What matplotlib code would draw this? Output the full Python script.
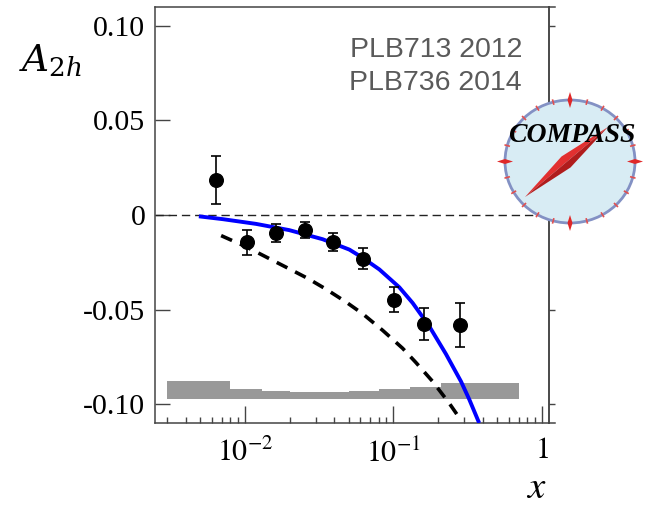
import numpy as np
import matplotlib
matplotlib.use("Agg")
import matplotlib.pyplot as plt
from matplotlib.patches import Ellipse, Polygon

# data
x_data = [0.0064, 0.0104, 0.0162, 0.0253, 0.0394, 0.0621, 0.1004, 0.160, 0.2825]
y_data = [0.0185, -0.0144, -0.0097, -0.0079, -0.0144, -0.0231, -0.0447, -0.0577, -0.0584]
y_err = [0.0125, 0.0065, 0.0048, 0.0042, 0.0047, 0.0054, 0.0067, 0.0083, 0.0116]

blue_x = [0.0049, 0.0071, 0.0119, 0.0199, 0.0334, 0.0506, 0.0621, 0.0806,
          0.1097, 0.135, 0.1746, 0.2263, 0.2858, 0.325, 0.379]
blue_y = [-0.0007, -0.0022, -0.0047, -0.0080, -0.0128, -0.0183, -0.0226, -0.0288,
          -0.0382, -0.0465, -0.0588, -0.0735, -0.0880, -0.0975, -0.1100]

dash_x = [0.00692, 0.0102, 0.0139, 0.01995, 0.0265, 0.0352, 0.048, 0.0621,
          0.0848, 0.1156, 0.142, 0.184, 0.238, 0.2858]
dash_y = [-0.0109, -0.0168, -0.0222, -0.0285, -0.0335, -0.0392, -0.0460, -0.0522,
          -0.0610, -0.0705, -0.0780, -0.0880, -0.0995, -0.1085]

# systematic band
band_edges = [0.003, 0.008, 0.013, 0.02, 0.05, 0.08, 0.13, 0.21, 0.7]
band_top = [-0.0877, -0.0921, -0.0930, -0.0935, -0.0930, -0.0921, -0.0909, -0.0886]
band_bottom = -0.0972

y_ticks = [-0.10, -0.05, 0, 0.05, 0.10]
y_ticklabels = ['-0.10', '-0.05', '0', '0.05', '0.10']
x_ticks = [0.01, 0.1, 1]
x_ticklabels = ['$10^{-2}$', '$10^{-1}$', '$1$']

plt.rcParams['font.family'] = ['Liberation Serif', 'DejaVu Serif']
plt.rcParams['mathtext.fontset'] = 'stix'

W, H = 646, 508
fig = plt.figure(figsize=(W / 100, H / 100), dpi=100)
ax = fig.add_axes([155 / W, 1 - 423 / H, (549 - 155) / W, (423 - 7) / H])

ax.fill_between(band_edges, band_bottom, band_top + [band_top[-1]], step='post',
                color='#999999', lw=0, zorder=1)
ax.axhline(0, color='#222222', lw=1.0, dashes=(6, 3.5), zorder=2)
ax.plot(blue_x, blue_y, color='#0000ff', lw=2.8, zorder=3, solid_capstyle='butt',
        solid_joinstyle='round')
ax.plot(dash_x, dash_y, color='black', lw=2.6, dashes=(3.3, 2.4), zorder=3)
ax.errorbar(x_data, y_data, yerr=y_err, fmt='o', color='black', ms=9.8,
            elinewidth=1.2, capsize=3.5, capthick=1.2, zorder=4)

ax.set_xscale('log')
ax.set_xlim(0.00248, 1.12)
ax.set_ylim(-0.11, 0.11)

ax.set_yticks(y_ticks)
ax.set_yticklabels(y_ticklabels, fontsize=21.5)
ax.set_xticks(x_ticks)
ax.set_xticklabels(x_ticklabels, fontsize=21.5)
ax.xaxis.set_minor_locator(matplotlib.ticker.LogLocator(base=10, subs=np.arange(2, 10)))
ax.xaxis.set_minor_formatter(matplotlib.ticker.NullFormatter())
ax.tick_params(axis='y', direction='in', length=11, width=1.0, color='#444444', pad=7)
ax.tick_params(axis='x', which='major', direction='in', length=12.5, width=1.0,
               color='#444444', pad=11)
ax.tick_params(axis='x', which='minor', direction='in', length=4.5, width=1.0,
               color='#444444')
ax.tick_params(top=False, right=False)
for s in ax.spines.values():
    s.set_color('#444444')
    s.set_linewidth(1.1)

# right axis ticks point outwards, frame lines run a bit past it
sec = ax.secondary_yaxis('right')
sec.set_yticks(y_ticks)
sec.set_yticklabels([])
sec.tick_params(direction='out', length=4.5, width=1.0, color='#444444')
sec.spines['right'].set_color('#444444')
sec.spines['right'].set_linewidth(1.1)
for yy in (0, 1):
    ax.plot([1, 1.016], [yy, yy], transform=ax.transAxes, color='#444444',
            lw=1.1, clip_on=False)

refs = ['PLB713 2012', 'PLB736 2014']
for i, r in enumerate(refs):
    fig.text(522 / W, 1 - (57 + 33 * i) / H, r, ha='right', va='baseline',
             fontsize=20.5, color='#5a5a5a', family='Liberation Sans')

fig.text(19 / W, 1 - 71 / H, '$A_{2h}$', fontsize=27, ha='left', va='baseline',
         math_fontfamily='dejavuserif')
fig.text(546 / W, 1 - 507 / H, '$x$', fontsize=28, ha='right', va='bottom')

# COMPASS logo
lg = fig.add_axes([490 / W, 1 - 240 / H, 156 / W, 160 / H])
lg.set_xlim(490, 646)
lg.set_ylim(240, 80)
lg.axis('off')
cx, cy = 570, 161.5
lg.add_patch(Ellipse((cx, cy), 130, 123, facecolor='#d8ecf4', edgecolor='#8391c4', lw=2))
for ang in np.arange(0, 360, 15):
    if ang % 90 == 0:
        continue
    t = np.deg2rad(ang)
    lg.plot([cx + 63 * np.cos(t), cx + 67 * np.cos(t)],
            [cy + 59.5 * np.sin(t), cy + 63.5 * np.sin(t)], color='#e05050', lw=1.2)
for px, py, dx, dy in [(cx, 100, 0, 1), (cx, 223, 0, 1), (505, cy, 1, 0), (635, cy, 1, 0)]:
    lg.add_patch(Polygon([(px - 8 * dx, py - 8 * dy), (px + 2.5 * dy, py + 2.5 * dx),
                          (px + 8 * dx, py + 8 * dy), (px - 2.5 * dy, py - 2.5 * dx)],
                         closed=True, color='#e02828', lw=0))
lg.text(572, 141.5, 'COMPASS', fontsize=20, fontweight='bold', fontstyle='italic',
        ha='center', va='baseline', color='black', family='Liberation Serif')
tail, head, mid = (525, 197), (608, 127), (566, 162)
lg.add_patch(Polygon([tail, (mid[0] - 4.5, mid[1] - 5.5), head], closed=True,
                     color='#e23030', lw=0))
lg.add_patch(Polygon([tail, (mid[0] + 4.5, mid[1] + 5.5), head], closed=True,
                     color='#b01c1c', lw=0))

fig.savefig('out.png', dpi=100)
